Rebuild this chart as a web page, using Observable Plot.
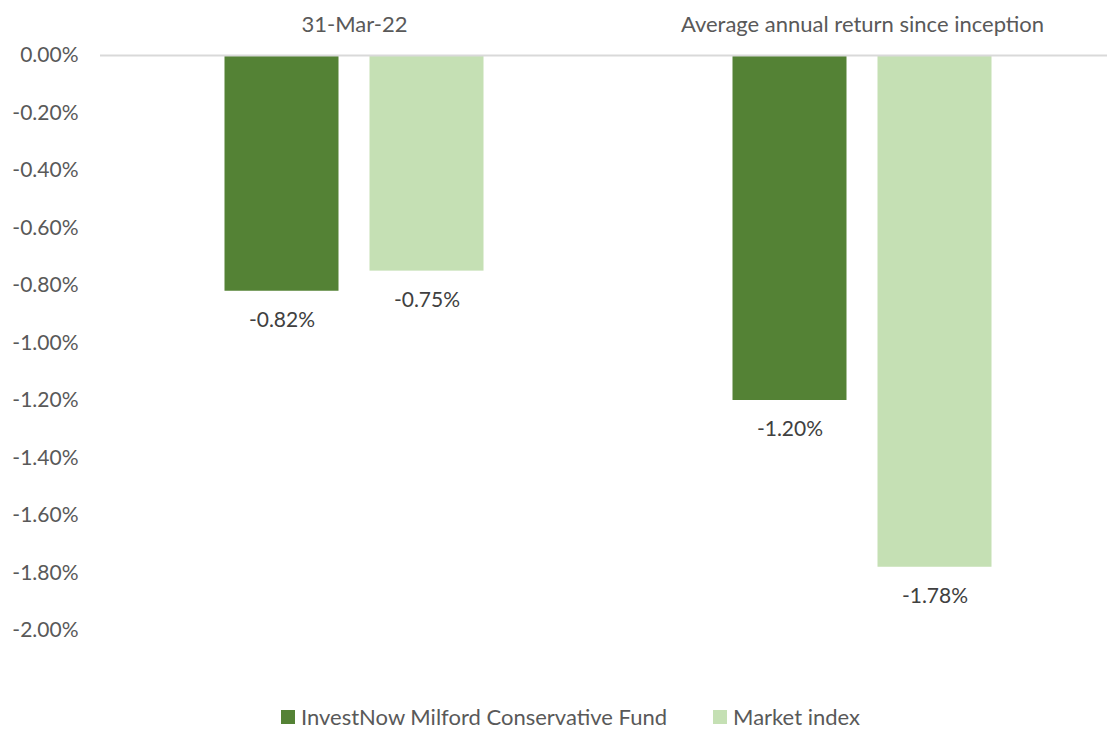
<!DOCTYPE html>
<html>
<head>
<meta charset="utf-8">
<script src="https://cdn.jsdelivr.net/npm/d3@7"></script>
<script src="https://cdn.jsdelivr.net/npm/@observablehq/plot@0.6"></script>
<style>
  html, body { margin: 0; padding: 0; background: #fff; }
  body { width: 1107px; height: 729px; overflow: hidden; font-family: Lato, "Open Sans", sans-serif; position: relative; }
  #legend { position: absolute; left: 281px; top: 705px; display: flex; align-items: center; gap: 46px; font-size: 22px; color: #595959; line-height: 24px; }
  .item { display: flex; align-items: center; gap: 6px; }
  .sw { width: 14px; height: 14px; display: inline-block; }
</style>
</head>
<body>
<div id="chart"></div>
<div id="legend"></div>
<script>
const categories = ["31-Mar-22", "Average annual return since inception"];
const series = ["InvestNow Milford Conservative Fund", "Market index"];
const fundValues = [-0.82, -1.20];
const indexValues = [-0.75, -1.78];
const yTicks = [0, -0.2, -0.4, -0.6, -0.8, -1.0, -1.2, -1.4, -1.6, -1.8, -2.0];
const colors = ["#548235", "#C5E0B4"];

const data = [];
categories.forEach((c, i) => {
  data.push({category: c, series: series[0], value: fundValues[i]});
  data.push({category: c, series: series[1], value: indexValues[i]});
});

const fmt = d => d.toFixed(2) + "%";

const chart = Plot.plot({
  width: 1107,
  height: 680,
  marginLeft: 99.5,
  marginRight: -8.5,
  marginTop: 55,
  marginBottom: 50,
  style: {fontFamily: "Lato, 'Open Sans', sans-serif", fontSize: "21px", color: "#595959", background: "#fff"},
  fx: {domain: categories, padding: 0, label: null},
  x: {domain: series, paddingInner: 0.2138, paddingOuter: 0.8586, axis: null},
  y: {domain: [-2, 0], ticks: yTicks, tickFormat: fmt, label: null},
  color: {domain: series, range: colors},
  marks: [
    Plot.axisY({ticks: yTicks, tickFormat: fmt, tickSize: 0, tickPadding: 22, fontSize: "21px", fill: "#595959", label: null}),
    Plot.axisFx({anchor: "top", tickSize: 0, tickPadding: 24, fontSize: "22px", fill: "#595959", label: null}),
    Plot.barY(data, {fx: "category", x: "series", y: "value", fill: "series"}),
    Plot.ruleY([0], {stroke: "#d9d9d9", strokeWidth: 2}),
    Plot.text(data, {fx: "category", x: "series", y: "value", text: d => fmt(d.value), dy: 29, fill: "#404040", fontSize: "21px"})
  ]
});
document.getElementById("chart").appendChild(chart);

const legend = document.getElementById("legend");
series.forEach((s, i) => {
  const it = document.createElement("div");
  it.className = "item";
  const sw = document.createElement("span");
  sw.className = "sw";
  sw.style.background = colors[i];
  const t = document.createElement("span");
  t.textContent = s;
  it.appendChild(sw);
  it.appendChild(t);
  legend.appendChild(it);
});
</script>
</body>
</html>
